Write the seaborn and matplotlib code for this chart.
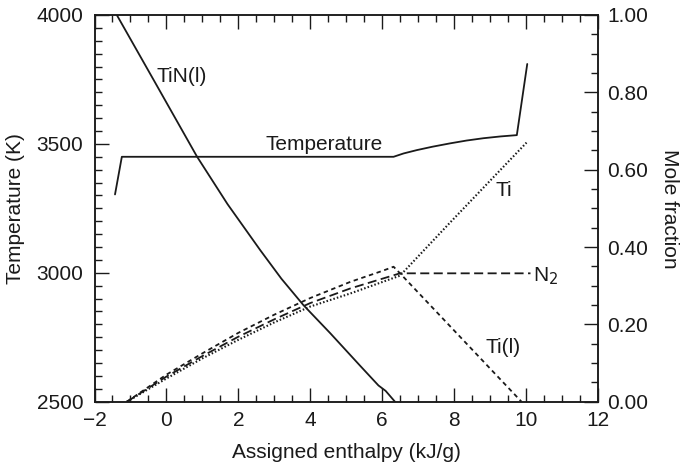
import matplotlib
matplotlib.use("Agg")
import matplotlib.pyplot as plt
from matplotlib.ticker import MultipleLocator
import seaborn as sns
import pandas as pd

# ---------------- data ----------------
temp_x = [-1.43, -1.24, 6.32, 6.60, 6.97, 7.40, 7.89, 8.35, 8.82, 9.30, 9.75, 10.04]
temp_T = [3304, 3450, 3450, 3463, 3476, 3489, 3502, 3513, 3522, 3529, 3534, 3810]

tin_x = [-1.38, -0.30, 0.85, 1.70, 2.61, 3.20, 3.81, 4.56, 5.40, 5.90, 6.10, 6.36]
tin_y = [1.00, 0.823, 0.634, 0.511, 0.392, 0.318, 0.250, 0.177, 0.092, 0.042, 0.028, 0.0]

til_x = [-1.10, 0.0, 1.0, 2.0, 3.0, 4.0, 5.12, 6.0, 6.32, 6.50, 9.88]
til_y = [0.0, 0.070, 0.125, 0.178, 0.225, 0.268, 0.310, 0.338, 0.349, 0.332, 0.0]

n2_x = [-1.10, 0.0, 1.0, 2.0, 3.0, 4.0, 5.12, 6.50, 10.13]
n2_y = [0.0, 0.065, 0.118, 0.168, 0.213, 0.255, 0.293, 0.332, 0.332]

ti_x = [-1.10, 0.0, 1.0, 2.0, 3.0, 4.0, 5.12, 6.50, 7.89, 10.02]
ti_y = [0.0, 0.060, 0.112, 0.160, 0.205, 0.246, 0.280, 0.326, 0.463, 0.670]

x_ticks = [-2, 0, 2, 4, 6, 8, 10, 12]
t_ticks = [2500, 3000, 3500, 4000]
t_ticklabels = ["2500", "3000", "3500", "4000"]
f_ticks = [0.0, 0.2, 0.4, 0.6, 0.8, 1.0]
f_ticklabels = ["0.00", "0.20", "0.40", "0.60", "0.80", "1.00"]

# ---------------- style ----------------
sns.set_style("ticks")
plt.rcParams["font.family"] = ["Liberation Sans", "DejaVu Sans"]
plt.rcParams["lines.scale_dashes"] = False
plt.rcParams["axes.linewidth"] = 1.1

FS = 15
col = "#1a1a1a"
lw = 1.3

fig = plt.figure(figsize=(6.83, 4.67), dpi=100)
ax = fig.add_axes([0.1384, 0.1398, 0.8751 - 0.1384, 0.9679 - 0.1398])
ax2 = ax.twinx()

# temperature on left axis
sns.lineplot(data=pd.DataFrame({"x": temp_x, "y": temp_T}), x="x", y="y", ax=ax,
             color=col, lw=lw, estimator=None, sort=False)

# mole fractions on right axis
def mf(xs, ys, lwid=lw, **kw):
    sns.lineplot(data=pd.DataFrame({"x": xs, "y": ys}), x="x", y="y", ax=ax2,
                 color=col, lw=lwid, estimator=None, sort=False, **kw)

mf(tin_x, tin_y)
mf(til_x, til_y, dashes=(3.2, 2.6))
mf(n2_x, n2_y, dashes=(6.5, 3.2))
mf(ti_x, ti_y, lwid=1.5, dashes=(1.1, 1.5))

ax.set_xlim(-2, 12)
ax.set_ylim(2500, 4000)
ax2.set_ylim(0, 1)

ax.set_xticks(x_ticks)
ax.set_yticks(t_ticks)
ax.set_yticklabels(t_ticklabels)
ax2.set_yticks(f_ticks)
ax2.set_yticklabels(f_ticklabels)
ax.xaxis.set_minor_locator(MultipleLocator(0.5))
ax.yaxis.set_minor_locator(MultipleLocator(50))
ax2.yaxis.set_minor_locator(MultipleLocator(0.05))

for a in (ax, ax2):
    a.tick_params(which="major", direction="in", length=10, width=1.0,
                  labelsize=FS, colors=col, pad=7)
    a.tick_params(which="minor", direction="in", length=5, width=1.0, colors=col)
    for s in a.spines.values():
        s.set_visible(True)
        s.set_color(col)
ax.tick_params(axis="x", which="both", top=True, bottom=True, pad=7)
ax.tick_params(axis="y", which="both", left=True, right=False, pad=8)
ax2.tick_params(axis="y", which="both", left=False, right=True, pad=7)

ax.set_xlabel("Assigned enthalpy (kJ/g)", fontsize=FS, color=col, labelpad=9)
ax.set_ylabel("Temperature (K)", fontsize=FS, color=col, labelpad=8)
ax2.set_ylabel("Mole fraction", fontsize=FS, color=col, rotation=270, labelpad=22)

# curve labels
ax.text(2.75, 3476, "Temperature", fontsize=FS, color=col, ha="left", va="baseline")
ax2.text(-0.27, 0.84, "TiN(l)", fontsize=FS, color=col, ha="left", va="center")
ax2.text(9.15, 0.547, "Ti", fontsize=FS, color=col, ha="left", va="center")
ax2.text(10.2, 0.325, "N$_2$", fontsize=FS, color=col, ha="left", va="center")
ax2.text(8.87, 0.139, "Ti(l)", fontsize=FS, color=col, ha="left", va="center")

fig.savefig("out.png", dpi=100)
